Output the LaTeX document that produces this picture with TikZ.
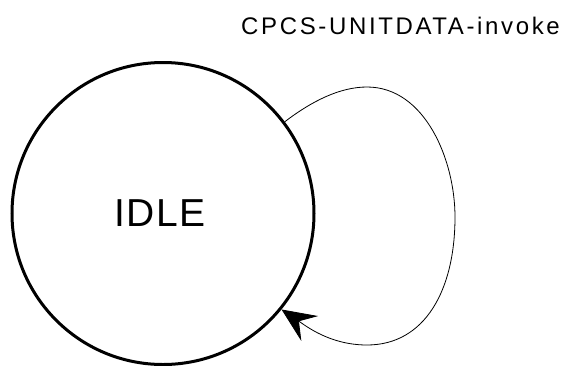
\documentclass[tikz,border=0pt]{standalone}
\usepackage{fontspec}
\setmainfont{Liberation Sans}
\usetikzlibrary{arrows.meta}
\begin{document}
\begin{tikzpicture}[x=1pt,y=-1pt,
  state/.style={circle,draw,line width=3pt,minimum size=302pt,inner sep=0pt,
    font=\fontsize{39}{39}\selectfont\addfontfeatures{LetterSpace=3}},
  loopline/.style={line width=0.8pt,-{Stealth[length=34pt,width=30pt,inset=13pt]}},
  lbl/.style={inner sep=0pt,anchor=base west,font=\fontsize{24}{24}\selectfont\addfontfeatures{LetterSpace=11}}]
\useasboundingbox (0,0) rectangle (563,365);
\node[state] (idle) at (163,213.5) {\hspace*{-6pt}IDLE};
\node[lbl] (ev) at (241,34) {CPCS-UNITDATA-invoke};
\coordinate (top) at (367,87);
\coordinate (right) at (455,217);
\coordinate (bot) at (367,345);
\draw[loopline] (idle.37) .. controls (312,101) and (340,87) .. (top)
  .. controls (425,87) and (455,160) .. (right)
  .. controls (455,290) and (425,345) .. (bot)
  .. controls (330,345) and (306,326) .. (idle.-39);
\end{tikzpicture}
\end{document}
